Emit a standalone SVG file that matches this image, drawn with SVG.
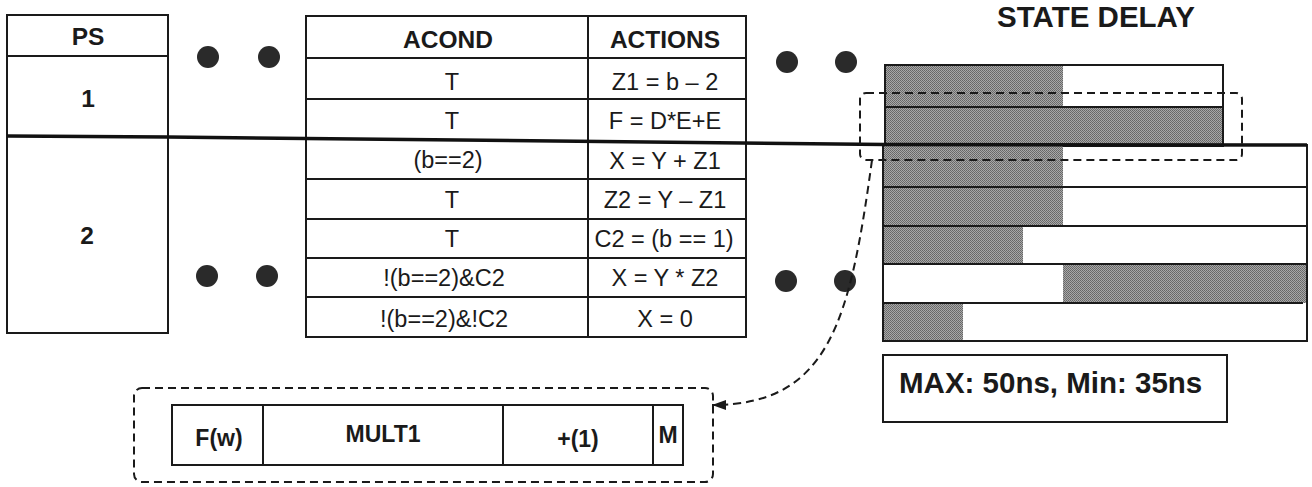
<svg xmlns="http://www.w3.org/2000/svg" width="1312" height="487" viewBox="0 0 1312 487">
<style>
.box{fill:#fff;stroke:#1a1a1a;stroke-width:2}
.ln{stroke:#1a1a1a;stroke-width:2;fill:none}
.thick{stroke:#111;stroke-width:3.5;fill:none}
.dash{stroke:#1a1a1a;stroke-width:2;fill:none;stroke-dasharray:8 5}
.dot{fill:#2a2a2a}
.hd{font-family:"Liberation Sans",Arial,sans-serif;font-weight:bold;font-size:24.5px;fill:#1a1a1a;text-anchor:middle}
.lb{font-family:"Liberation Sans",Arial,sans-serif;font-weight:bold;font-size:23px;fill:#1a1a1a;text-anchor:middle}
.tx{font-family:"Liberation Sans",Arial,sans-serif;font-size:23.5px;fill:#1a1a1a;text-anchor:middle}
.big{font-family:"Liberation Sans",Arial,sans-serif;font-weight:bold;font-size:29.5px;fill:#1a1a1a}
.sh{fill:url(#ht);stroke:none}
</style>
<defs>
<pattern id="ht" width="2" height="2" patternUnits="userSpaceOnUse">
<rect width="2" height="2" fill="#a8a8a8"/>
<rect width="1" height="1" fill="#666"/>
<rect x="1" y="1" width="1" height="1" fill="#6e6e6e"/>
</pattern>
<marker id="arr" markerUnits="userSpaceOnUse" markerWidth="16" markerHeight="12" refX="14" refY="6" orient="auto">
<path d="M0,1 L14,6 L0,11 Z" fill="#1a1a1a"/>
</marker>
</defs>

<g id="ps-table">
<rect class="box" x="7" y="15" width="161" height="318"/>
<line class="ln" x1="7" y1="56" x2="168" y2="56"/>
<text class="hd" x="88" y="45">PS</text>
<text class="hd" x="88" y="107">1</text>
<text class="hd" x="87" y="244">2</text>
</g>

<g id="dots">
<circle class="dot" cx="208" cy="57" r="11"/>
<circle class="dot" cx="269" cy="57" r="11"/>
<circle class="dot" cx="207" cy="276" r="11"/>
<circle class="dot" cx="267" cy="276" r="11"/>
<circle class="dot" cx="787" cy="62" r="11"/>
<circle class="dot" cx="846" cy="62" r="11"/>
<circle class="dot" cx="786" cy="281" r="11"/>
<circle class="dot" cx="845" cy="281" r="11"/>
</g>

<g id="acond-table">
<rect class="box" x="306" y="16" width="440" height="321"/>
<line class="ln" x1="588" y1="16" x2="588" y2="337"/>
<line class="ln" x1="306" y1="58" x2="746" y2="58"/>
<line class="ln" x1="306" y1="99" x2="746" y2="99"/>
<line class="ln" x1="306" y1="179" x2="746" y2="179"/>
<line class="ln" x1="306" y1="219" x2="746" y2="219"/>
<line class="ln" x1="306" y1="258" x2="746" y2="258"/>
<line class="ln" x1="306" y1="297" x2="746" y2="297"/>
<text class="hd" x="448" y="48">ACOND</text>
<text class="hd" x="665" y="48">ACTIONS</text>
<text class="tx" x="452" y="90">T</text>
<text class="tx" x="665" y="90">Z1 = b – 2</text>
<text class="tx" x="452" y="129">T</text>
<text class="tx" x="665" y="129">F = D*E+E</text>
<text class="tx" x="448" y="168">(b==2)</text>
<text class="tx" x="665" y="169">X = Y + Z1</text>
<text class="tx" x="452" y="208">T</text>
<text class="tx" x="665" y="208">Z2 = Y – Z1</text>
<text class="tx" x="452" y="247">T</text>
<text class="tx" x="664" y="247">C2 = (b == 1)</text>
<text class="tx" x="444" y="286">!(b==2)&amp;C2</text>
<text class="tx" x="665" y="286">X = Y  * Z2</text>
<text class="tx" x="444" y="327">!(b==2)&amp;!C2</text>
<text class="tx" x="665" y="327">X = 0</text>
</g>

<g id="state-delay">
<text class="big" x="1096" y="27" text-anchor="middle">STATE DELAY</text>
<rect class="sh" x="885" y="65" width="178" height="42"/>
<rect class="sh" x="885" y="107" width="338" height="39"/>
<rect class="ln" x="885" y="65" width="338" height="81"/>
<line class="ln" x1="885" y1="107" x2="1223" y2="107"/>
<rect class="sh" x="883" y="145" width="180" height="42"/>
<rect class="sh" x="883" y="187" width="180" height="39"/>
<rect class="sh" x="883" y="226" width="140" height="38"/>
<rect class="sh" x="1063" y="264" width="244" height="39"/>
<rect class="sh" x="883" y="303" width="80" height="38"/>
<rect class="ln" x="883" y="145" width="424" height="196"/>
<line class="ln" x1="883" y1="187" x2="1307" y2="187"/>
<line class="ln" x1="883" y1="226" x2="1307" y2="226"/>
<line class="ln" x1="883" y1="264" x2="1307" y2="264"/>
<line class="ln" x1="883" y1="303" x2="1303" y2="303"/>
</g>

<g id="max-min">
<rect class="box" x="883" y="355" width="344" height="67"/>
<text class="big" x="899" y="393">MAX: 50ns, Min: 35ns</text>
</g>

<g id="resource-box">
<rect class="dash" x="134" y="388" width="579" height="94" rx="8"/>
<rect class="box" x="172" y="405" width="511" height="60"/>
<line class="ln" x1="263" y1="405" x2="263" y2="465"/>
<line class="ln" x1="503" y1="405" x2="503" y2="465"/>
<line class="ln" x1="653" y1="405" x2="653" y2="465"/>
<text class="lb" x="219" y="446">F(w)</text>
<text class="lb" x="383" y="442">MULT1</text>
<text class="lb" x="578" y="447">+(1)</text>
<text class="lb" x="668" y="443">M</text>
</g>

<g id="connectors">
<polyline class="thick" points="7,136 168,137 885,144.5 1307,145"/>
<rect class="dash" x="860" y="93" width="382" height="67" rx="6"/>
<path class="dash" d="M872,160 C850,320 830,405 712,405" marker-end="url(#arr)"/>
</g>
</svg>
